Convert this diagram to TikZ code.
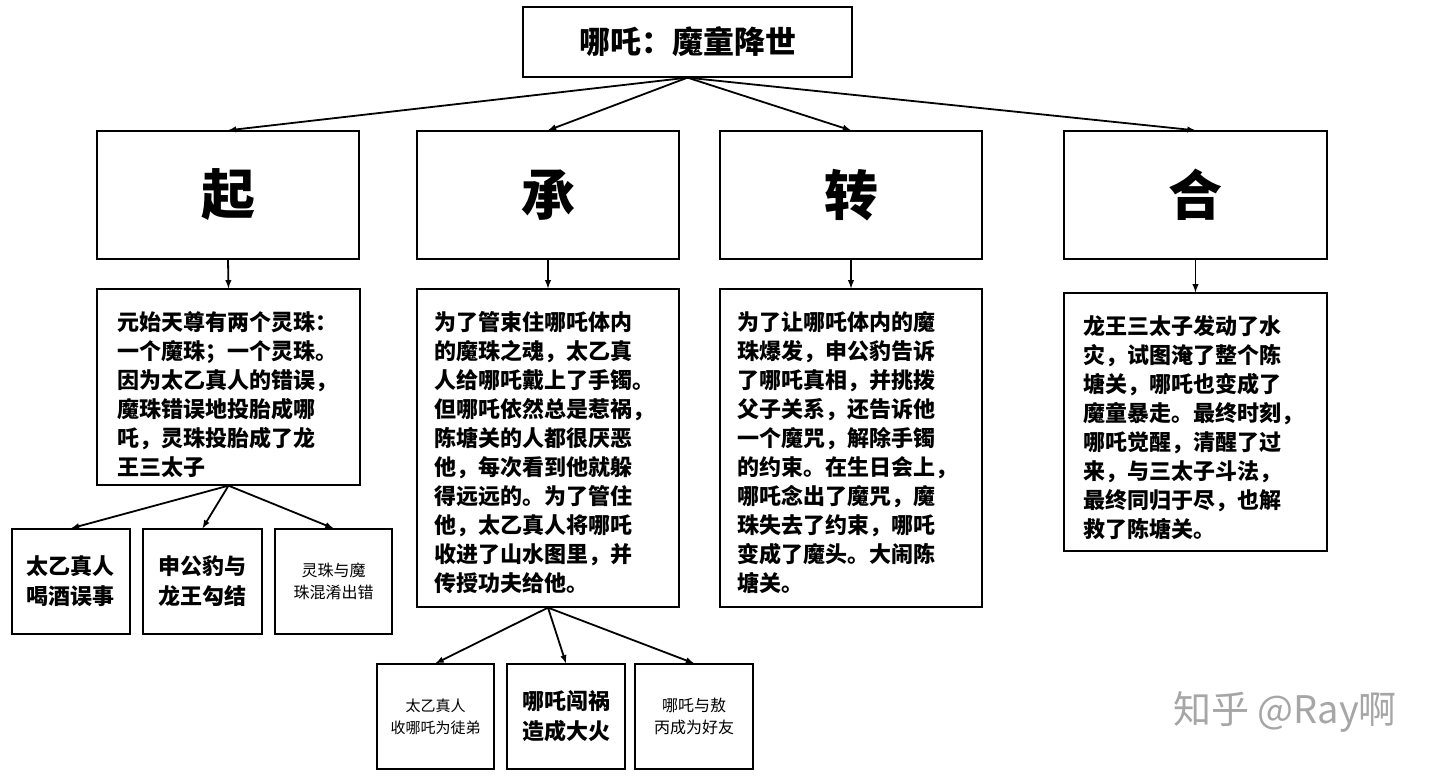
\documentclass[tikz,border=0pt]{standalone}
\usepackage{fontspec}
\setmainfont{Noto Sans CJK SC}
\tikzset{
  plot box/.style={
    draw,
    line width=1.3pt,
    inner sep=0pt,
  },
  plot text/.style={
    align=left,
    font=\bfseries\fontsize{22}{29}\selectfont,
  },
  plot arrow/.style={
    ->,
    line width=1.8pt,
  },
}
\begin{document}
\begin{tikzpicture}[x=1pt, y=-1pt, >=latex]
        \useasboundingbox (0,0) rectangle (1440,777);

        \node[plot box, minimum width=329, minimum height=70, font=\bfseries\fontsize{31}{36}\selectfont] (title) at (687.5,42) {哪吒：魔童降世};

        \node[plot box, minimum width=262, minimum height=128, font=\bfseries\fontsize{54}{60}\selectfont] (qi)    at ( 228,195) {起};
        \node[plot box, minimum width=262, minimum height=128, font=\bfseries\fontsize{54}{60}\selectfont] (cheng) at ( 548,195) {承};
        \node[plot box, minimum width=262, minimum height=128, font=\bfseries\fontsize{54}{60}\selectfont] (zhuan) at ( 851,195) {转};
        \node[plot box, minimum width=263, minimum height=128, font=\bfseries\fontsize{54}{60}\selectfont] (he)    at (1195.5,195) {合};

        \node[plot box, minimum width=263, minimum height=196] (qitext)    at ( 228.5,387) {};
        \node[plot box, minimum width=262, minimum height=318] (chengtext) at ( 548,448) {};
        \node[plot box, minimum width=262, minimum height=318] (zhuantext) at ( 851,448) {};
        \node[plot box, minimum width=263, minimum height=258] (hetext)    at (1195.5,422) {};

        \node[plot text, anchor=north west] at (114,308) {元始天尊有两个灵珠：\\一个魔珠；一个灵珠。\\因为太乙真人的错误，\\魔珠错误地投胎成哪\\吒，灵珠投胎成了龙\\王三太子};
        \node[plot text, anchor=north west] at (431,308) {为了管束住哪吒体内\\的魔珠之魂，太乙真\\人给哪吒戴上了手镯。\\但哪吒依然总是惹祸，\\陈塘关的人都很厌恶\\他，每次看到他就躲\\得远远的。为了管住\\他，太乙真人将哪吒\\收进了山水图里，并\\传授功夫给他。};
        \node[plot text, anchor=north west] at (734,308) {为了让哪吒体内的魔\\珠爆发，申公豹告诉\\了哪吒真相，并挑拨\\父子关系，还告诉他\\一个魔咒，解除手镯\\的约束。在生日会上，\\哪吒念出了魔咒，魔\\珠失去了约束，哪吒\\变成了魔头。大闹陈\\塘关。};
        \node[plot text, anchor=north west] at (1080,312) {龙王三太子发动了水\\灾，试图淹了整个陈\\塘关，哪吒也变成了\\魔童暴走。最终时刻，\\哪吒觉醒，清醒了过\\来，与三太子斗法，\\最终同归于尽，也解\\救了陈塘关。};

        \node[plot box, minimum width=118, minimum height=105, align=center, font=\bfseries\fontsize{22}{30}\selectfont] (sub1) at ( 71,581.5) {太乙真人\\喝酒误事};
        \node[plot box, minimum width=119, minimum height=105, align=center, font=\bfseries\fontsize{22}{30}\selectfont] (sub2) at (202.5,581.5) {申公豹与\\龙王勾结};
        \node[plot box, minimum width=117, minimum height=105, align=center, font=\fontsize{16}{22}\selectfont] (sub3) at (333.5,581.5) {灵珠与魔\\珠混淆出错};
        \node[plot box, minimum width=117, minimum height=105, align=center, font=\fontsize{15}{22}\selectfont] (sub4) at (435.5,716.5) {太乙真人\\收哪吒为徒弟};
        \node[plot box, minimum width=118, minimum height=105, align=center, font=\bfseries\fontsize{22}{30}\selectfont] (sub5) at (566,716.5) {哪吒闯祸\\造成大火};
        \node[plot box, minimum width=118, minimum height=105, align=center, font=\fontsize{16}{22}\selectfont] (sub6) at (694,716.5) {哪吒与敖\\丙成为好友};

        \node[text=black!35, font=\fontsize{38}{40}\selectfont] (mark) at (1285,712) {知乎 @Ray啊};

        \draw[plot arrow] (title.south) -- (qi.north);
        \draw[plot arrow] (title.south) -- (cheng.north);
        \draw[plot arrow] (title.south) -- (zhuan.north);
        \draw[plot arrow] (title.south) -- (he.north);

        \draw[plot arrow] (qi.south)    -- (qitext.north);
        \draw[plot arrow] (cheng.south) -- (chengtext.north);
        \draw[plot arrow] (zhuan.south) -- (zhuantext.north);
        \draw[plot arrow] (he.south)    -- (hetext.north);

        \draw[plot arrow] (qitext.south) -- (sub1.north);
        \draw[plot arrow] (qitext.south) -- (sub2.north);
        \draw[plot arrow] (qitext.south) -- (sub3.north);
        \draw[plot arrow] (chengtext.south) -- (sub4.north);
        \draw[plot arrow] (chengtext.south) -- (sub5.north);
        \draw[plot arrow] (chengtext.south) -- (sub6.north);
      \end{tikzpicture}
\end{document}
